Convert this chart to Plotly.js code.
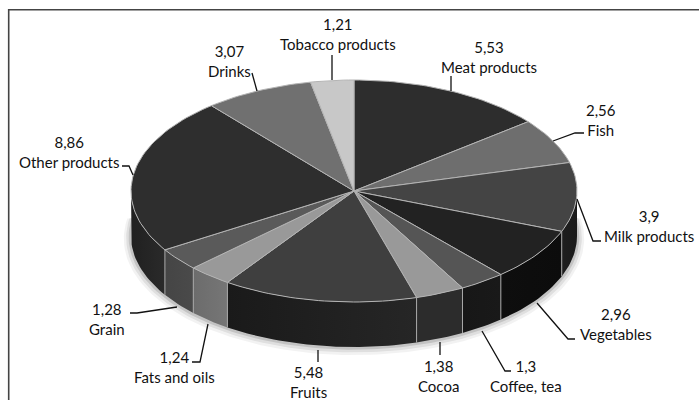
<!DOCTYPE html>
<html><head><meta charset="utf-8">
<script src="https://cdn.plot.ly/plotly-3.0.1.min.js"></script>
<style>html,body{margin:0;padding:0;background:#fff}#c{width:699px;height:400px}</style>
</head><body><div id="c"></div>
<script>
const categories=["Meat products","Fish","Milk products","Vegetables","Coffee, tea","Cocoa","Fruits","Fats and oils","Grain","Other products","Drinks","Tobacco products"];
const values=[5.53,2.56,3.9,2.96,1.3,1.38,5.48,1.24,1.28,8.86,3.07,1.21];
const valueLabels=["5,53","2,56","3,9","2,96","1,3","1,38","5,48","1,24","1,28","8,86","3,07","1,21"];
const topColors=["#2d2d2d","#6e6e6e","#444444","#222222","#555555","#999999","#3f3f3f","#999999","#5a5a5a","#2e2e2e","#707070","#c8c8c8"];
const wallLeft=["#1a1a1a","#333333","#1e1e1e","#0e0e0e","#171717","#2c2c2c","#1a1a1a","#6c6c6c","#454545","#202020","#333333","#555555"];
const wallRight=["#1a1a1a","#333333","#1a1a1a","#0c0c0c","#191919","#2c2c2c","#262626","#767676","#4a4a4a","#2a2a2a","#333333","#555555"];
const labelX=[489,601,649,616,526,438,308,174,107,69,229,338];
const labelY=[57,120,226,324,376,376,382,367,319,152,61,34];
const leaderX=[[451,451],[553,575,584],[577,593,601],[537,568,575],[482,505,511],[440,440],[318,318],[208,200,192],[177,137,130],[133,129,122],[257,252],[332,332]];
const leaderY=[[91,76],[141,133,133],[199,241,241],[303,339,339],[331,371,371],[342,355],[350,362],[324,362,362],[307,313,313],[175,166,166],[91,73],[80,55]];

const cx=354,cy=191,rx=223,ry=111,depth=45;
const total=values.reduce((a,b)=>a+b,0);
const px=a=>cx+rx*Math.sin(a*Math.PI/180);
const py=(a,d)=>cy-ry*Math.cos(a*Math.PI/180)+(d||0);
function arc(a0,a1){const n=Math.max(2,Math.ceil(Math.abs(a1-a0)/1.5));const r=[];for(let i=0;i<=n;i++)r.push(a0+(a1-a0)*i/n);return r;}
const traces=[];
// soft shadow under the disc
[[9,0.05],[6,0.08],[3,0.12]].forEach(([g,o])=>{
  const as=arc(80,280);
  traces.push({type:"scatter",mode:"lines",x:as.map(a=>cx+(rx+g*0.8)*Math.sin(a*Math.PI/180)),y:as.map(a=>cy+depth+g*0.3-(ry+g*0.6)*Math.cos(a*Math.PI/180)),
    fill:"toself",fillcolor:"rgba(0,0,0,"+o+")",line:{width:0},hoverinfo:"skip",showlegend:false});
});
let angle=0;const spans=values.map(v=>{const s=[angle,angle+v/total*360];angle=s[1];return s;});
// side walls
spans.forEach((s,i)=>{
  const a0=Math.max(s[0],90),a1=Math.min(s[1],270);
  if(a1<=a0)return;
  const as=arc(a0,a1);
  const xs=as.map(px).concat(as.slice().reverse().map(px));
  const ys=as.map(a=>py(a)).concat(as.slice().reverse().map(a=>py(a,depth)));
  xs.push(xs[0]);ys.push(ys[0]);
  traces.push({type:"scatter",mode:"lines",x:xs,y:ys,fill:"toself",
    fillgradient:{type:"horizontal",colorscale:[[0,px(a1)<px(a0)?wallLeft[i]:wallRight[i]],[1,px(a1)<px(a0)?wallRight[i]:wallLeft[i]]]},
    line:{width:0},hoverinfo:"skip",showlegend:false,name:categories[i]+" side"});
});
// vertical seams between visible walls
spans.forEach(s=>{
  const a=s[1];
  if(a>90&&a<270)traces.push({type:"scatter",mode:"lines",x:[px(a),px(a)],y:[py(a),py(a,depth)],line:{color:"#a8a8a8",width:1},hoverinfo:"skip",showlegend:false});
});
// top faces
spans.forEach((s,i)=>{
  const as=arc(s[0],s[1]);
  traces.push({type:"scatter",mode:"lines",x:[cx].concat(as.map(px),[cx]),y:[cy].concat(as.map(a=>py(a)),[cy]),fill:"toself",fillcolor:topColors[i],
    line:{color:"#b4b4b4",width:1},name:categories[i],text:valueLabels[i],hoverinfo:"name+text",showlegend:false});
});
// leaders
leaderX.forEach((lx,i)=>traces.push({type:"scatter",mode:"lines",x:lx,y:leaderY[i],line:{color:"#111",width:1.3},hoverinfo:"skip",showlegend:false}));
const annotations=categories.map((c,i)=>({x:labelX[i],y:labelY[i],xref:"x",yref:"y",text:valueLabels[i]+"<br>"+c,showarrow:false,align:"center",
  font:{family:"Lato, sans-serif",size:15,color:"#111"},xanchor:"center",yanchor:"middle"}));
Plotly.newPlot("c",traces,{
  width:699,height:400,margin:{l:0,r:0,t:0,b:0},paper_bgcolor:"#fff",plot_bgcolor:"#fff",showlegend:false,
  xaxis:{range:[0,699],visible:false,fixedrange:true},
  yaxis:{range:[400,0],visible:false,fixedrange:true},
  annotations,
  shapes:[{type:"rect",xref:"paper",yref:"paper",x0:8.7/699,y0:1-9.7/400,x1:1.02,y1:-0.02,line:{color:"#444",width:1.6},fillcolor:"rgba(0,0,0,0)",layer:"below"}]
},{displayModeBar:false,staticPlot:true});
</script></body></html>
